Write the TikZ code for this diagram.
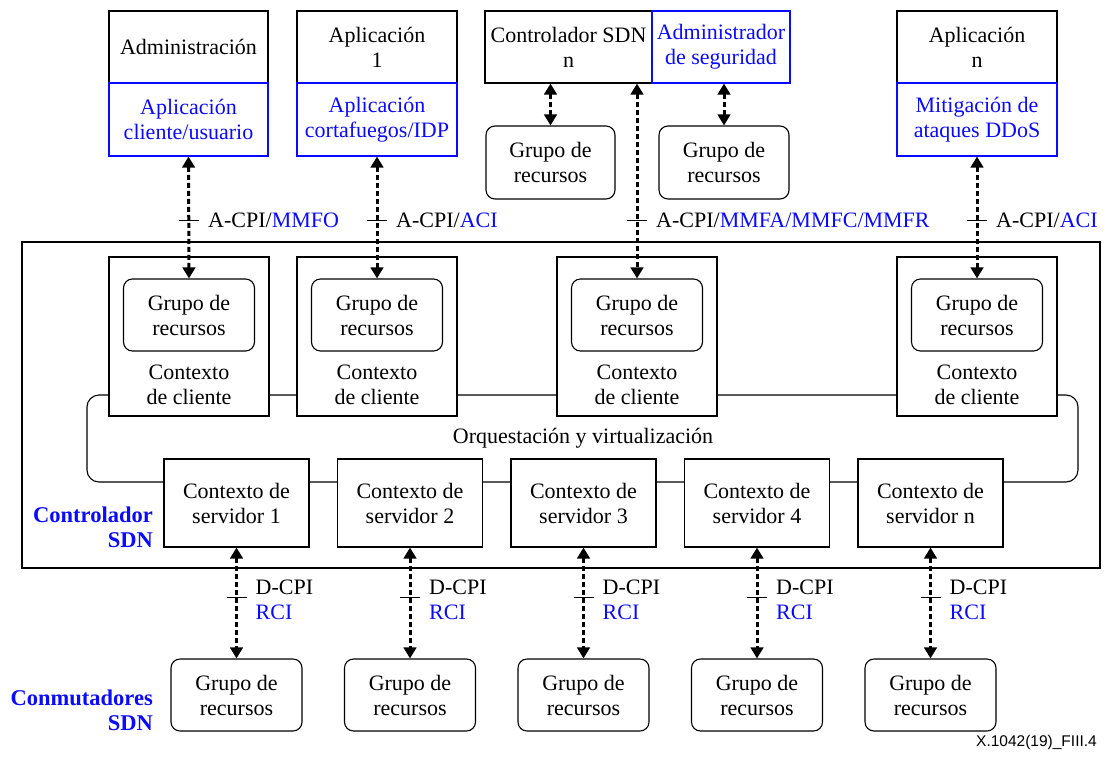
\documentclass[tikz,border=0pt]{standalone}
\usepackage{fontspec}
\setmainfont{Liberation Serif}
\newfontfamily\figfont{Liberation Sans}
\usetikzlibrary{arrows.meta,calc}
\definecolor{sdnblue}{RGB}{10,10,255}

\begin{document}
\begin{tikzpicture}[x=1pt,y=-1pt,
  every node/.style={font=\fontsize{22}{25}\selectfont},
  plainbox/.style={draw=black, line width=1.1pt, fill=white, inner sep=0pt, align=center},
  bluebox/.style={draw=sdnblue, line width=1.1pt, fill=white, inner sep=0pt, align=center, text=sdnblue},
  poolbox/.style={draw=black, line width=1.1pt, fill=white, rounded corners=9pt, inner sep=0pt,
                  align=center, minimum width=131pt, minimum height=72pt},
  link/.style={line width=3pt, dash pattern=on 5pt off 3pt,
               {Triangle[width=12.5pt,length=11pt]}-{Triangle[width=12.5pt,length=11pt]}},
  tickmark/.style={line width=1pt},
  iflabel/.style={anchor=west, inner sep=0pt, align=left},
  tag/.style={anchor=east, inner sep=0pt, align=right, text=sdnblue,
              font=\fontsize{22.5}{25}\selectfont\bfseries}
]
\useasboundingbox (0,0) rectangle (1107,758);

% SDN controller frame
\node[draw=black, line width=1.3pt, inner sep=0pt, minimum width=1078pt, minimum height=326pt] (sdn) at (561,405) {};

% orchestration and virtualisation ring
\draw[line width=1.1pt, rounded corners=12pt] (87,395) rectangle (1078,482);
\node[inner sep=0pt] (orq) at (583,438) {Orquestación y virtualización};

% applications on top
\node[plainbox, minimum width=159pt, minimum height=72pt] (adm) at (188.5,47) {Administración};
\node[bluebox, minimum width=159pt, minimum height=73pt] (admapp) at (188.5,119.5) {Aplicación\\cliente/usuario};

\node[plainbox, minimum width=160pt, minimum height=72pt] (app1) at (377,47) {Aplicación\\1};
\node[bluebox, minimum width=160pt, minimum height=73pt] (fw) at (377,119.5) {Aplicación\\cortafuegos/IDP};

\node[plainbox, minimum width=167pt, minimum height=72pt] (ctl) at (568.5,47) {Controlador SDN\\n};
\node[bluebox, minimum width=138pt, minimum height=72pt] (sec) at (721,47) {Administrador\\de seguridad};
\node[poolbox, minimum width=129pt, minimum height=73pt] (rg1) at (550.5,162.5) {Grupo de\\recursos};
\node[poolbox, minimum width=130pt, minimum height=73pt] (rg2) at (724,162.5) {Grupo de\\recursos};

\node[plainbox, minimum width=160pt, minimum height=72pt] (appn) at (977,47) {Aplicación\\n};
\node[bluebox, minimum width=160pt, minimum height=73pt] (ddos) at (977,119.5) {Mitigación de\\ataques DDoS};

% client contexts
\foreach \i/\x in {1/189, 2/377, 3/637, 4/977} {
  \node[plainbox, minimum width=160pt, minimum height=159pt] (cc\i) at (\x,336.5) {};
  \node[poolbox] (cc\i g) at (\x,315) {Grupo de\\recursos};
  \node[inner sep=0pt, align=center] (cc\i t) at (\x,384.5) {Contexto\\de cliente};
}

% server contexts and switches
\foreach \i/\x/\lab in {1/236.5/1, 2/410/2, 3/583.5/3, 4/757/4, 5/930.5/n} {
  \node[plainbox, minimum width=145pt, minimum height=88pt] (sc\i) at (\x,503) {Contexto de\\servidor \lab};
  \node[poolbox] (bp\i) at (\x,695) {Grupo de\\recursos};
  \draw[link] (sc\i.south) -- (bp\i.north);
  \coordinate (dk\i) at (sc\i.south |- 0,597);
  \draw[tickmark] ($(dk\i)+(-10,0)$) -- ($(dk\i)+(10,0)$);
  \node[iflabel] (dl\i) at ($(dk\i)+(19,2.5)$) {D-CPI\\\textcolor{sdnblue}{RCI}};
}

% northbound interfaces
\draw[link] (admapp.south) -- (cc1g.north);
\draw[link] (fw.south) -- (cc2g.north);
\draw[link] (cc3g.north |- ctl.south) -- (cc3g.north);
\draw[link] (ddos.south) -- (cc4g.north);
\draw[link] (rg1.north |- ctl.south) -- (rg1.north);
\draw[link] (rg2.north |- sec.south) -- (rg2.north);

\coordinate (ak1) at (cc1g.north |- 0,220);
\coordinate (ak2) at (cc2g.north |- 0,220);
\coordinate (ak3) at (cc3g.north |- 0,220);
\coordinate (ak4) at (cc4g.north |- 0,220);
\foreach \k in {ak1,ak2,ak3,ak4} {
  \draw[tickmark] ($(\k)+(-10,0)$) -- ($(\k)+(10,0)$);
}
\node[iflabel] (al1) at ($(ak1)+(19,0)$) {A-CPI/\textcolor{sdnblue}{MMFO}};
\node[iflabel] (al2) at ($(ak2)+(19,0)$) {A-CPI/\textcolor{sdnblue}{ACI}};
\node[iflabel] (al3) at ($(ak3)+(19,0)$) {A-CPI/\textcolor{sdnblue}{MMFA/MMFC/MMFR}};
\node[iflabel] (al4) at ($(ak4)+(19,0)$) {A-CPI/\textcolor{sdnblue}{ACI}};

% layer tags
\node[tag] (ctltag) at (153,527.5) {Controlador\\SDN};
\node[tag] (swtag) at (153,710.5) {Conmutadores\\SDN};

\node[anchor=east, inner sep=0pt, font=\figfont\fontsize{15.5}{17}\selectfont] (fig) at (1097,742) {X.1042(19)\_FIII.4};
\end{tikzpicture}
\end{document}
